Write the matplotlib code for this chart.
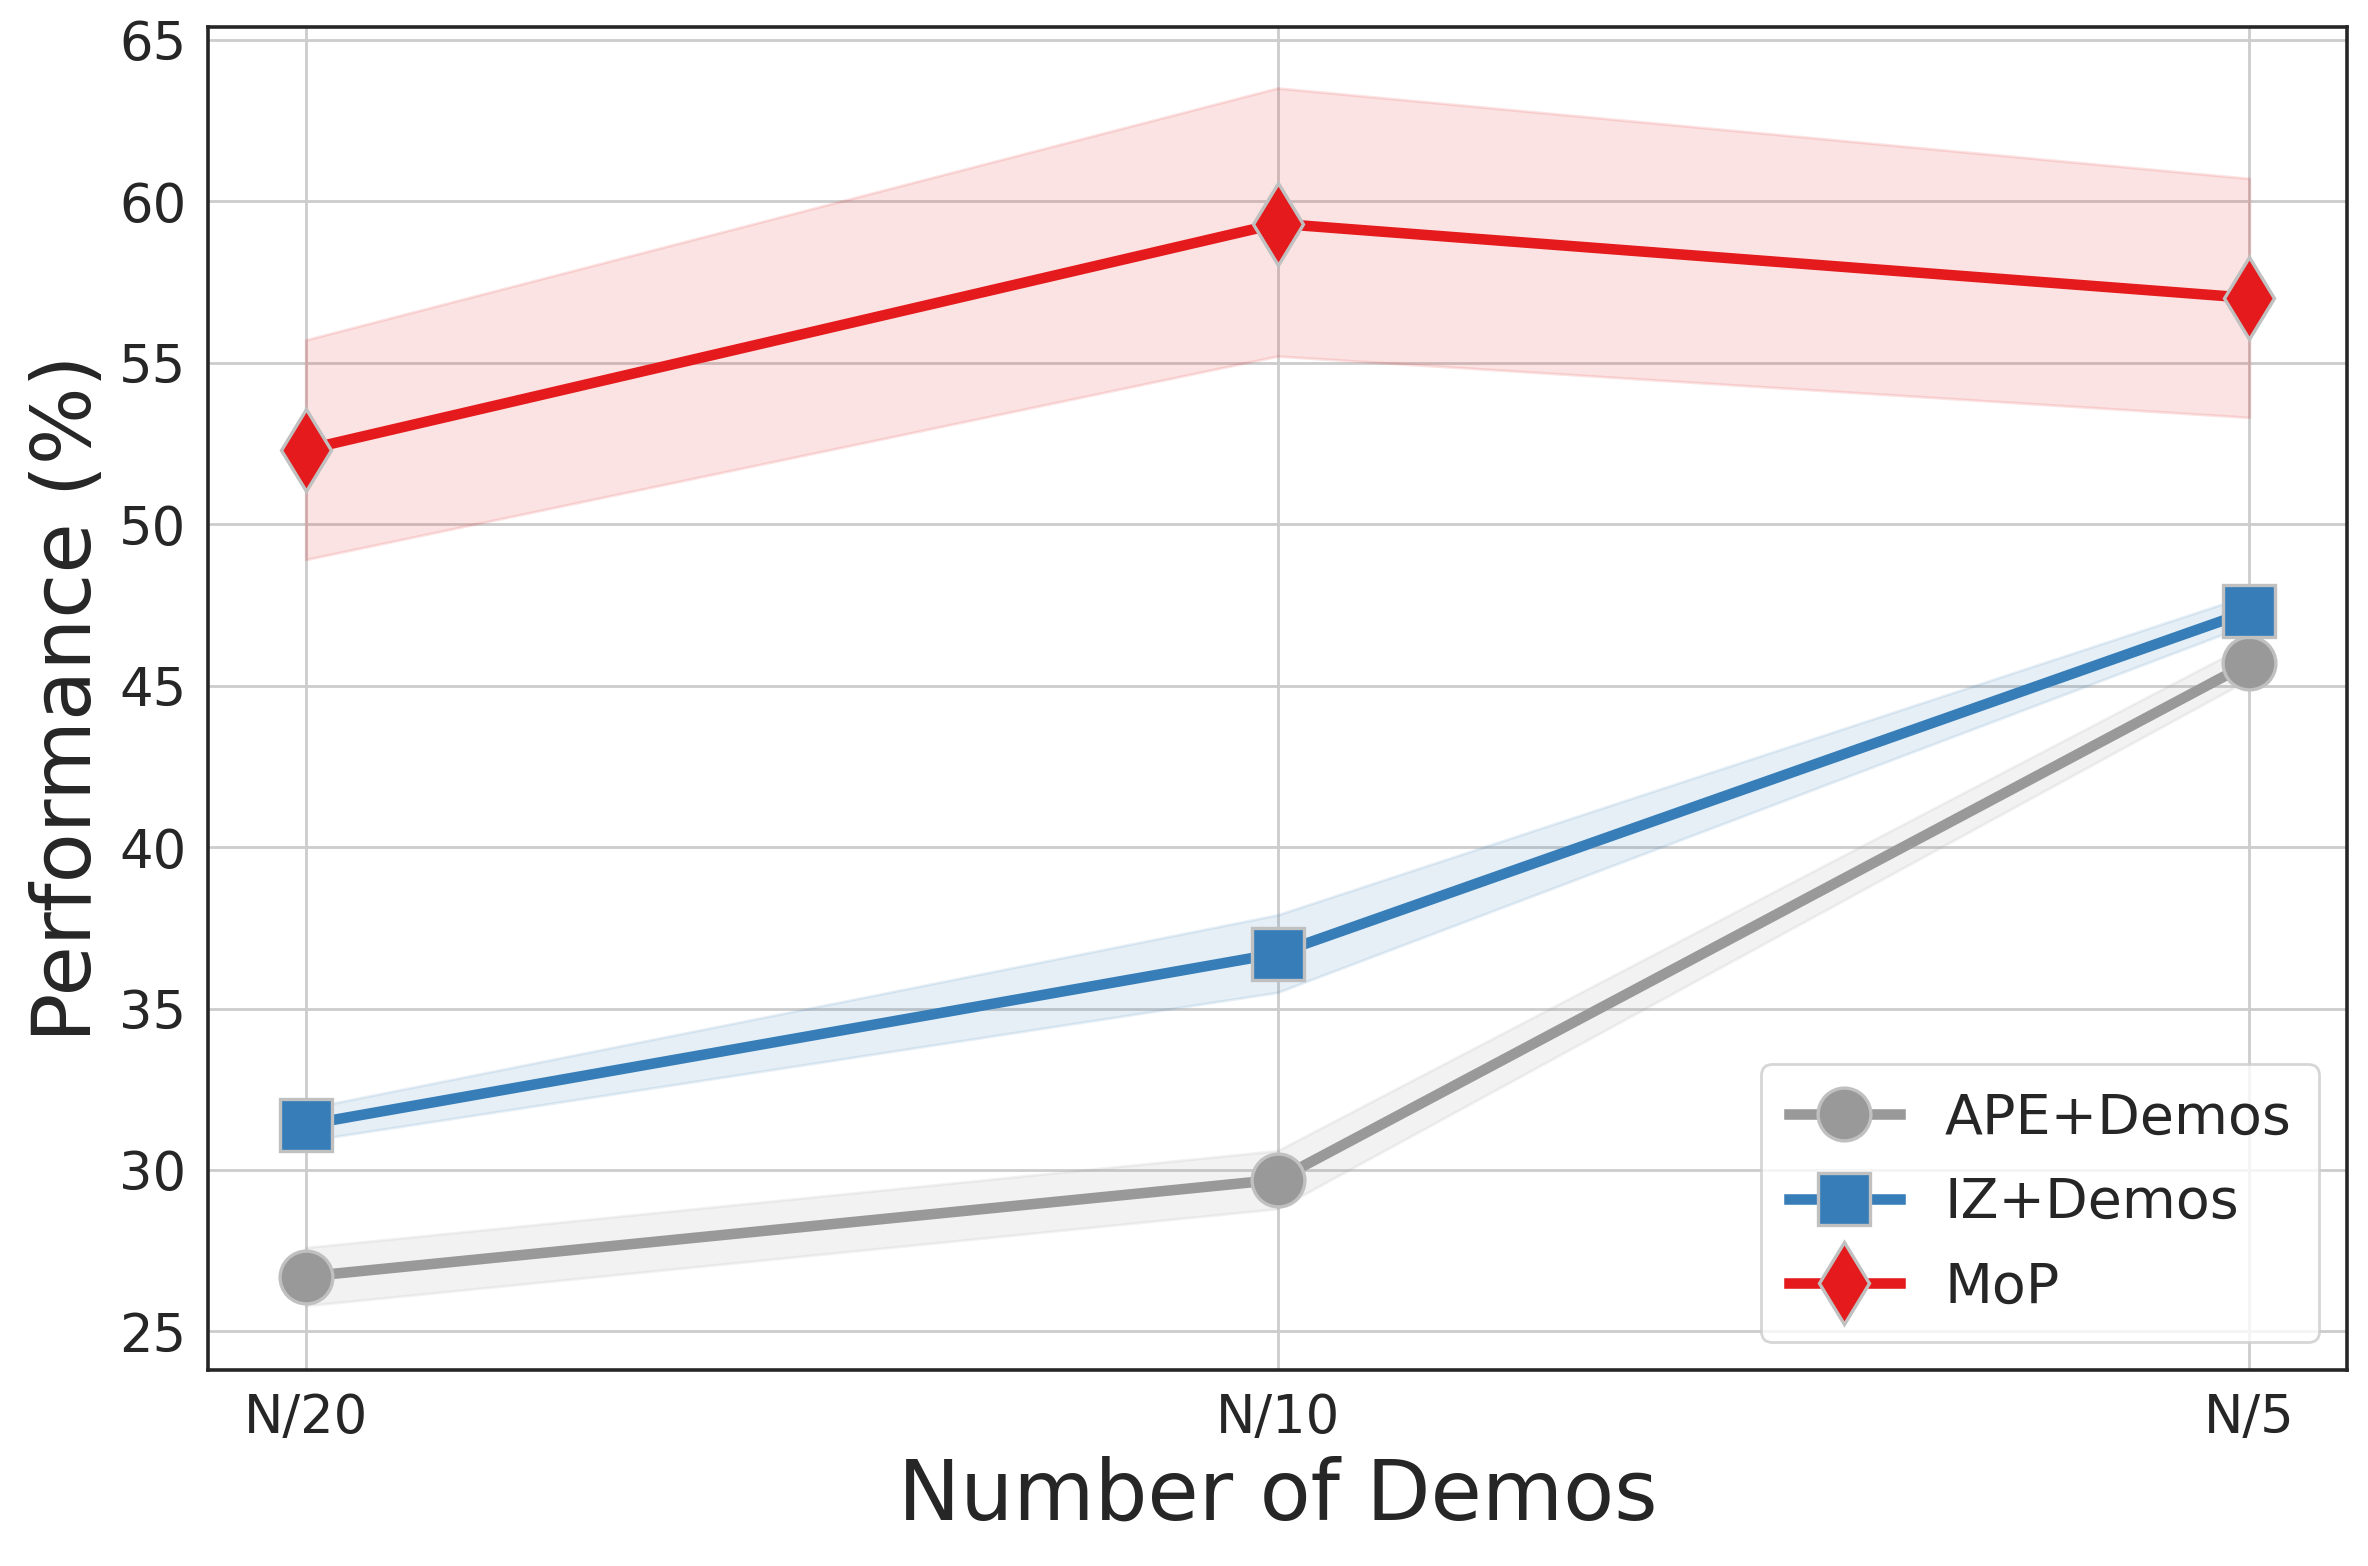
import numpy as np
import matplotlib
matplotlib.use("Agg")
import matplotlib.pyplot as plt

# data
demos = ["N/20", "N/10", "N/5"]
series = ["APE+Demos", "IZ+Demos", "MoP"]

ape_mean = [26.7, 29.7, 45.7]
ape_low = [25.8, 28.8, 45.2]
ape_high = [27.6, 30.6, 46.3]

iz_mean = [31.4, 36.7, 47.3]
iz_low = [30.9, 35.5, 46.9]
iz_high = [31.9, 37.9, 47.8]

mop_mean = [52.3, 59.3, 57.0]
mop_low = [48.9, 55.2, 53.3]
mop_high = [55.7, 63.5, 60.7]

colors = ["#999999", "#377eb8", "#e41a1c"]
markers = ["o", "s", "d"]

fig = plt.figure(figsize=(11.84, 7.83), dpi=200)
ax = fig.add_axes([0.088, 0.125, 0.903, 0.858])

x = np.arange(len(demos))
means = [ape_mean, iz_mean, mop_mean]
lows = [ape_low, iz_low, mop_low]
highs = [ape_high, iz_high, mop_high]

for i in range(len(series)):
    ax.fill_between(x, lows[i], highs[i], color=colors[i], alpha=0.12,
                    linewidth=1, edgecolor=colors[i], zorder=2)
    ax.plot(x, means[i], color=colors[i], lw=3.8, marker=markers[i],
            markersize=19 if markers[i] != "d" else 21,
            markeredgecolor="#c0c0c0", markeredgewidth=1.2,
            label=series[i], zorder=3)

ax.set_xticks(x)
ax.set_xticklabels(demos, fontsize=19)
ax.set_xlim(-0.1, 2.1)
ax.set_ylim(23.8, 65.4)
ax.set_yticks(np.arange(25, 66, 5))
ax.tick_params(axis="y", labelsize=19)
ax.tick_params(length=0, pad=8, labelcolor="#262626")

ax.grid(True, color="#cccccc", lw=1)
ax.set_axisbelow(True)
for s in ax.spines.values():
    s.set_color("#262626")
    s.set_linewidth(1.3)

ax.set_xlabel("Number of Demos", fontsize=30, color="#262626")
ax.set_ylabel("Performance (%)", fontsize=29.5, color="#262626")

leg = ax.legend(loc="lower right", fontsize=20, handlelength=2.0,
                markerscale=1.0, borderpad=0.5, labelspacing=0.55,
                framealpha=0.8)
for t in leg.get_texts():
    t.set_color("#262626")

fig.savefig("out.png", dpi=200)
